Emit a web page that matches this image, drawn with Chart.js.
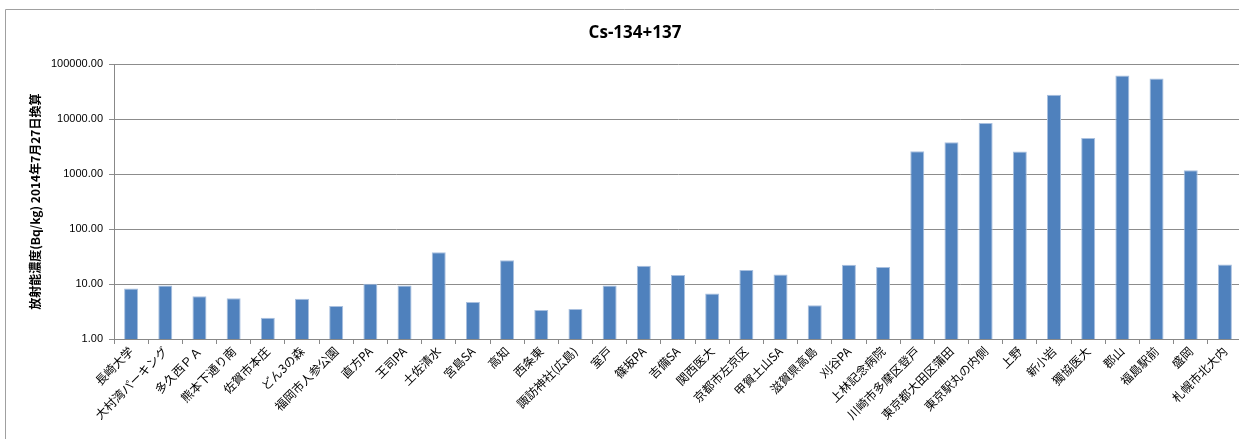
<!DOCTYPE html>
<html>
<head>
<meta charset="utf-8">
<script src="https://cdn.jsdelivr.net/npm/chart.js@4/dist/chart.umd.min.js"></script>
<style>
    html, body { margin: 0; padding: 0; background: #fff; overflow: hidden; }
    #wrap { position: absolute; left: 0; top: 0; width: 1244px; height: 439px; }
</style>
</head>
<body>
<div id="wrap"><canvas id="cs-chart"></canvas></div>
<script>
// Sampling points
const sites = [
    '長崎大学', '大村湾パーキング', '多久西ＰＡ', '熊本下通り南', '佐賀市本庄',
    'どん3の森', '福岡市人参公園', '直方PA', '王司PA', '土佐清水', '宮島SA',
    '高知', '西条東', '諏訪神社(広島)', '室戸', '篠坂PA', '吉備SA', '関西医大',
    '京都市左京区', '甲賀土山SA', '滋賀県高島', '刈谷PA', '上林記念病院',
    '川崎市多摩区登戸', '東京都大田区蒲田', '東京駅丸の内側', '上野', '新小岩',
    '獨協医大', '郡山', '福島駅前', '盛岡', '札幌市北大内'
];

// Cs-134+137 (Bq/kg), decay corrected to 2014-07-27
const csValues = [
    8.3, 9.4, 6.0, 5.5, 2.44,
    5.4, 4.0, 10.1, 9.4, 38, 4.7,
    27.3, 3.37, 3.5, 9.4, 21.5, 14.6, 6.75,
    18, 15, 4.1, 22.5, 20.4,
    2620, 3810, 8570, 2590, 28000,
    4570, 63000, 55600, 1180, 22.7
];

const yTicks = [1, 10, 100, 1000, 10000, 100000];

const jpFont = '"Noto Sans CJK JP", "Noto Sans", sans-serif';

// outer frame of the chart (top and left edges)
const framePlugin = {
    id: 'frame',
    beforeDraw(chart) {
        const c = chart.ctx;
        c.save();
        c.fillStyle = '#fff';
        c.fillRect(0, 0, chart.width, chart.height);
        c.strokeStyle = '#a0a0a0';
        c.lineWidth = 1;
        c.beginPath();
        c.moveTo(5.5, chart.height);
        c.lineTo(5.5, 9.5);
        c.lineTo(chart.width, 9.5);
        c.stroke();
        c.restore();
    }
};

new Chart(document.getElementById('cs-chart'), {
    type: 'bar',
    data: {
        labels: sites,
        datasets: [{
            label: 'Cs-134+137',
            data: csValues,
            backgroundColor: '#4f81bd',
            borderColor: '#a9c0df',
            borderWidth: {top: 1, left: 1, right: 1, bottom: 0},
            borderSkipped: false,
            barPercentage: 0.41,
            categoryPercentage: 1.0
        }]
    },
    options: {
        responsive: true,
        maintainAspectRatio: false,
        animation: false,
        layout: {padding: {left: 28, right: 2, top: 12, bottom: 0}},
        plugins: {
            legend: {display: false},
            tooltip: {enabled: false},
            title: {
                display: true,
                text: 'Cs-134+137',
                color: '#000',
                font: {family: '"Open Sans", sans-serif', size: 17, weight: 'bold'},
                padding: {top: 11, bottom: 21}
            }
        },
        scales: {
            x: {
                grid: {display: true, drawOnChartArea: false, color: '#888', tickLength: 5, offset: true},
                border: {color: '#888'},
                ticks: {
                    color: '#000',
                    autoSkip: false,
                    maxRotation: 45,
                    minRotation: 45,
                    padding: 0,
                    font: {family: jpFont, size: 12}
                },
                afterFit(scale) { scale.height = 100; }
            },
            y: {
                type: 'logarithmic',
                min: 1,
                max: 100000,
                afterBuildTicks(scale) {
                    scale.ticks = yTicks.map(v => ({value: v}));
                },
                afterFit(scale) { scale.width = 86; },
                grid: {color: '#8c8c8c', tickLength: 5},
                border: {color: '#888'},
                ticks: {
                    color: '#000',
                    padding: 6,
                    font: {family: '"Liberation Sans", sans-serif', size: 11},
                    callback: v => Number(v).toFixed(2)
                },
                title: {
                    display: true,
                    text: '放射能濃度(Bq/kg) 2014年7月27日換算',
                    color: '#000',
                    font: {family: jpFont, size: 12, weight: 'bold'},
                    padding: 0
                }
            }
        }
    },
    plugins: [framePlugin]
});
</script>
</body>
</html>
